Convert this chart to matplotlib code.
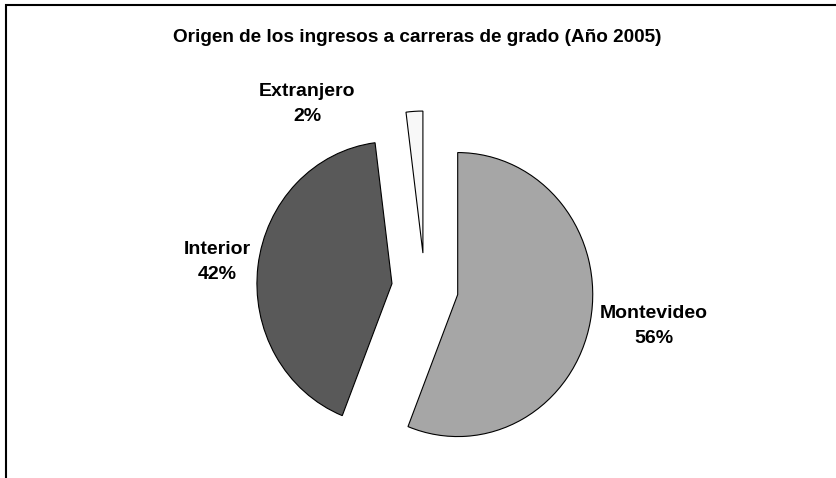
import numpy as np
import matplotlib
matplotlib.use("Agg")
import matplotlib.pyplot as plt
from matplotlib.patches import Rectangle

# Data
categories = ["Montevideo", "Interior", "Extranjero"]
shares = [56, 42, 2]
colors = ["#a6a6a6", "#595959", "#f8f8f8"]
title = "Origen de los ingresos a carreras de grado (Año 2005)"

W, H = 837, 478
plt.rcParams["font.family"] = ["Liberation Sans", "DejaVu Sans"]
fig = plt.figure(figsize=(W / 100, H / 100), dpi=100)

# Pie drawn slightly narrower than tall (horizontal squeeze factor)
sx = 0.951
pie_ax = fig.add_axes([0, 0, 1, 1])
radius = 142
center = (425 / sx, H - 288)
explode_px = 35
wedges, _ = pie_ax.pie(
    shares,
    colors=colors,
    startangle=90,
    counterclock=False,
    radius=radius,
    center=center,
    explode=[explode_px] * len(shares),
    wedgeprops=dict(edgecolor="black", linewidth=0.8),
)
pie_ax.set_xlim(0, W / sx)
pie_ax.set_ylim(0, H)
pie_ax.set_aspect("auto")
pie_ax.axis("off")

# Overlay in pixel coordinates for text and border
ax = fig.add_axes([0, 0, 1, 1])
ax.set_xlim(0, W)
ax.set_ylim(0, H)
ax.axis("off")
ax.patch.set_visible(False)

label_pos = {
    "Montevideo": (654, H - 326),
    "Interior": (217, H - 262),
    "Extranjero": (307, H - 104),
}
for name, val in zip(categories, shares):
    x, y = label_pos[name]
    ax.text(x, y, f"{name}\n{val}%", ha="center", va="center",
            fontsize=14, fontweight="bold", linespacing=1.55,
            family=["Liberation Sans", "DejaVu Sans"])

ax.text(417, H - 37, title, ha="center", va="center", fontsize=13.7,
        fontweight="bold", family=["Liberation Sans", "DejaVu Sans"])

# Chart area border
ax.add_patch(Rectangle((6, -20), W + 20, H - 5 + 20, fill=False,
                       edgecolor="black", linewidth=1.5, clip_on=False))

fig.savefig("out.png", dpi=100)
